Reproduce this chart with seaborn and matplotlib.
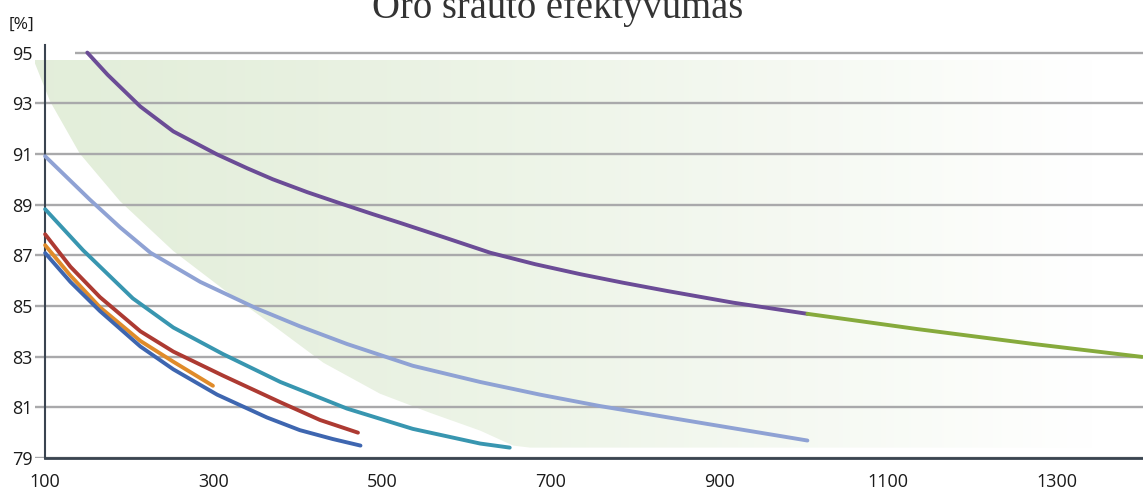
import numpy as np
import pandas as pd
import seaborn as sns
from matplotlib import pyplot as plt
from matplotlib.patches import Polygon

# values (x = flow, y = efficiency %)
purple_x = [150, 174, 213, 252, 304, 340, 370, 411, 450, 489, 521, 574, 628, 681, 734, 785, 838, 916, 1004]
purple_y = [95.0, 94.13, 92.87, 91.89, 90.98, 90.43, 90.0, 89.49, 89.05, 88.62, 88.28, 87.7, 87.1,
            86.65, 86.26, 85.92, 85.59, 85.13, 84.69]

green_x = [1004, 1134, 1272, 1401]
green_y = [84.69, 84.09, 83.5, 82.99]

lightblue_x = [100, 153, 189, 225, 284, 351, 402, 458, 536, 616, 687, 758, 877, 1004]
lightblue_y = [90.91, 89.2, 88.1, 87.1, 85.95, 84.9, 84.2, 83.5, 82.64, 82.0, 81.5, 81.05, 80.39, 79.69]

teal_x = [100, 145, 204, 252, 311, 379, 458, 536, 616, 651]
teal_y = [88.82, 87.2, 85.3, 84.15, 83.1, 82.0, 80.95, 80.15, 79.57, 79.41]

red_x = [100, 130, 165, 213, 252, 311, 379, 426, 471]
red_y = [87.83, 86.55, 85.35, 84.0, 83.2, 82.25, 81.2, 80.5, 80.0]

orange_x = [100, 130, 165, 213, 252, 299]
orange_y = [87.4, 86.2, 84.95, 83.62, 82.8, 81.85]

blue_x = [100, 130, 165, 213, 252, 304, 363, 402, 441, 474]
blue_y = [87.09, 85.95, 84.8, 83.4, 82.5, 81.5, 80.6, 80.1, 79.75, 79.49]

# shaded band outline (left/lower edge)
band_x = [88, 88, 106, 141, 189, 252, 311, 379, 430, 497, 556, 616, 655, 675]
band_y = [94.72, 94.57, 93.07, 91.02, 89.13, 87.17, 85.67, 84.02, 82.76, 81.54, 80.79, 80.08, 79.49, 79.41]

yticks = [79, 81, 83, 85, 87, 89, 91, 93, 95]
xlabels = [100, 300, 500, 700, 900, 1100, 1300]

series = {
    "purple": (purple_x, purple_y, "#6b4c96"),
    "green": (green_x, green_y, "#86aa3c"),
    "lightblue": (lightblue_x, lightblue_y, "#8fa2d4"),
    "teal": (teal_x, teal_y, "#3896b0"),
    "red": (red_x, red_y, "#ad3a32"),
    "orange": (orange_x, orange_y, "#e08b2a"),
    "blue": (blue_x, blue_y, "#3e66b0"),
}

frames = []
for name, (xs, ys, _) in series.items():
    frames.append(pd.DataFrame({"series": name, "flow": xs, "eff": ys}))
df = pd.concat(frames, ignore_index=True)
palette = {k: v[2] for k, v in series.items()}

sns.set_theme(style="white")
plt.rcParams["font.family"] = ["Open Sans", "DejaVu Sans"]

fig = plt.figure(figsize=(11.43, 4.92), dpi=100)
ax = fig.add_axes([35 / 1143, 1 - 458 / 492, 1 - 35 / 1143, (458 - 45) / 492])
ax.set_xlim(88, 1402)
ax.set_ylim(79, 95.3)

# green gradient band
top, bottom, right = 94.72, 79.41, 1402
poly = Polygon(list(zip(band_x, band_y)) + [(right, bottom), (right, top)],
               closed=True, transform=ax.transData, facecolor="none", edgecolor="none")
ax.add_patch(poly)
t = np.clip((np.linspace(88, right, 400) - 88) / (1340 - 88), 0, 1)[None, :, None]
green = np.array([0.89, 0.933, 0.855])
img = (1 - t ** 1.3) * green + t ** 1.3 * np.ones(3)
img = np.repeat(img, 2, axis=0)
im = ax.imshow(img, extent=(88, right, bottom, top), aspect="auto", zorder=0,
               interpolation="bilinear")
im.set_clip_path(poly)

# grid lines
ax.hlines(yticks[:-1], 88, right, color="#a9a9ab", lw=1.7, zorder=1)
ax.hlines(95, 136, right, color="#a9a9ab", lw=1.7, zorder=1)

sns.lineplot(data=df, x="flow", y="eff", hue="series", palette=palette,
             sort=False, estimator=None, units="series", legend=False,
             lw=2.8, ax=ax, zorder=3)

for s in ["top", "right"]:
    ax.spines[s].set_visible(False)
ax.spines["left"].set_position(("data", 100))
ax.spines["left"].set_color("#3a4450")
ax.spines["left"].set_linewidth(1.5)
ax.spines["bottom"].set_bounds(100, right)
ax.spines["bottom"].set_color("#3a4450")
ax.spines["bottom"].set_linewidth(2)

xt = np.arange(100, 1401, 40)
ax.set_xticks(xt)
ax.set_xticklabels([str(v) if v in xlabels else "" for v in xt])
ax.set_yticks(yticks)
ax.set_yticklabels([str(v) for v in yticks])
ax.tick_params(axis="x", direction="out", length=4, width=1.6, color="#3a4450",
               pad=7, labelsize=13, labelcolor="#1a1a1a")
ax.tick_params(axis="y", length=0, pad=9, labelsize=13, labelcolor="#1a1a1a")
ax.set_xlabel("")
ax.set_ylabel("")

fig.text(9 / 1143, 1 - 29 / 492, "[%]", fontsize=12.5, color="#1a1a1a", va="baseline")
fig.text(0.488, 1 - 18 / 492, "Oro srauto efektyvumas", fontsize=27.8,
         family="Liberation Serif", color="#333333", ha="center", va="baseline")

plt.savefig("out.png", dpi=100)
